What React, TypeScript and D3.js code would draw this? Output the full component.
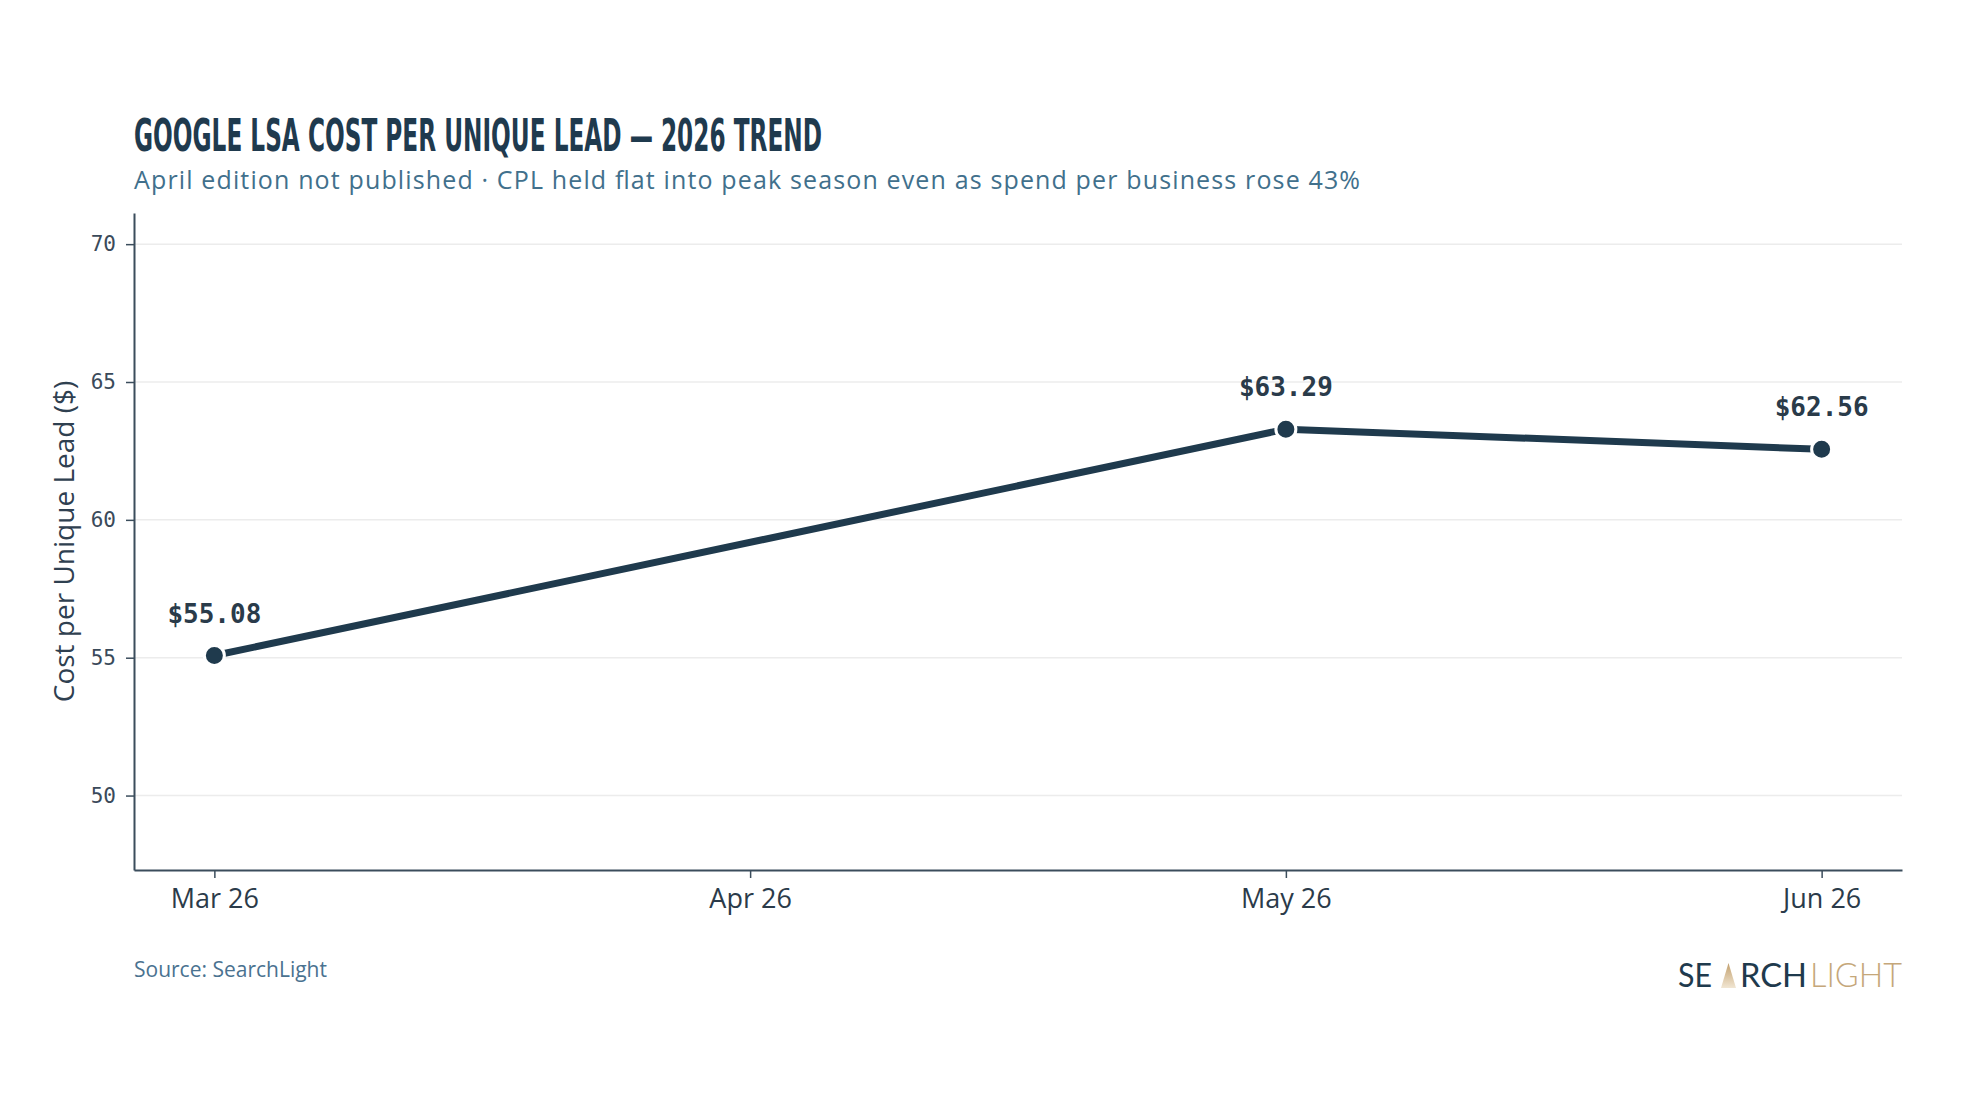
import React, { useEffect, useRef } from "react";
import * as d3 from "d3";

// chart data
const months = ["Mar 26", "Apr 26", "May 26", "Jun 26"];
const cpl: (number | null)[] = [55.08, null, 63.29, 62.56]; // April edition not published
const yTicks = [50, 55, 60, 65, 70];

const NAVY = "#1f3a4d";
const AXIS = "#3b4d5c";

const App: React.FC = () => {
  const svgRef = useRef<SVGSVGElement | null>(null);

  useEffect(() => {
    d3.select(svgRef.current).selectAll("*").remove();

    const w = 1974;
    const h = 1104;
    const m = { top: 213, right: 72, bottom: 234, left: 134 };

    const svg = d3
      .select(svgRef.current)
      .attr("width", w)
      .attr("height", h)
      .attr("viewBox", `0 0 ${w} ${h}`)
      .style("background-color", "#ffffff");

    const xScale = d3
      .scalePoint<string>()
      .domain(months)
      .range([m.left, w - m.right])
      .padding(0.15);

    const yScale = d3
      .scaleLinear()
      .domain([47.3, 71.13])
      .range([h - m.bottom, m.top]);

    // gridlines
    svg
      .append("g")
      .attr("class", "grid")
      .selectAll("line")
      .data(yTicks)
      .enter()
      .append("line")
      .attr("x1", m.left)
      .attr("x2", w - m.right)
      .attr("y1", d => yScale(d))
      .attr("y2", d => yScale(d))
      .attr("stroke", "#ececec")
      .attr("stroke-width", 1.5);

    // y axis
    const yAxis = svg
      .append("g")
      .attr("transform", `translate(${m.left}, 0)`)
      .call(d3.axisLeft(yScale).tickValues(yTicks).tickSize(8).tickSizeOuter(0).tickPadding(10));
    yAxis.select(".domain").attr("stroke", AXIS).attr("stroke-width", 2);
    yAxis.selectAll(".tick line").attr("stroke", AXIS).attr("stroke-width", 1.5);
    yAxis
      .selectAll(".tick text")
      .attr("fill", "#3a4a5a")
      .style("font-family", "'DejaVu Sans Mono', monospace")
      .style("font-size", "21px");

    // x axis
    const xAxis = svg
      .append("g")
      .attr("transform", `translate(0, ${h - m.bottom})`)
      .call(d3.axisBottom(xScale).tickSize(8).tickSizeOuter(0));
    xAxis.select(".domain").attr("stroke", AXIS).attr("stroke-width", 2);
    xAxis.selectAll(".tick line").attr("stroke", AXIS).attr("stroke-width", 1.5);
    xAxis
      .selectAll(".tick text")
      .attr("y", 38)
      .attr("dy", 0)
      .attr("fill", "#2b3b4a")
      .style("font-family", "'Open Sans', sans-serif")
      .style("font-size", "27px");

    // y axis label
    svg
      .append("text")
      .attr("text-anchor", "middle")
      .attr("transform", `translate(74, ${(m.top + h - m.bottom) / 2}) rotate(-90)`)
      .attr("fill", "#2f4050")
      .style("font-family", "'Open Sans', sans-serif")
      .style("font-size", "28px")
      .text("Cost per Unique Lead ($)");

    // line (skips the missing April value)
    const points = months
      .map((mo, i) => ({ month: mo, value: cpl[i] }))
      .filter(d => d.value != null) as { month: string; value: number }[];

    const line = d3
      .line<{ month: string; value: number }>()
      .x(d => xScale(d.month)!)
      .y(d => yScale(d.value));

    svg
      .append("path")
      .datum(points)
      .attr("d", line)
      .attr("fill", "none")
      .attr("stroke", NAVY)
      .attr("stroke-width", 7)
      .attr("stroke-linejoin", "round");

    svg
      .selectAll(".pt")
      .data(points)
      .enter()
      .append("circle")
      .attr("class", "pt")
      .attr("cx", d => xScale(d.month)!)
      .attr("cy", d => yScale(d.value))
      .attr("r", 10)
      .attr("fill", NAVY)
      .attr("stroke", "#ffffff")
      .attr("stroke-width", 3);

    svg
      .selectAll(".lbl")
      .data(points)
      .enter()
      .append("text")
      .attr("class", "lbl")
      .attr("x", d => xScale(d.month)!)
      .attr("y", d => yScale(d.value) - 33)
      .attr("text-anchor", "middle")
      .attr("fill", "#2a3b4a")
      .style("font-family", "'DejaVu Sans Mono', monospace")
      .style("font-weight", "bold")
      .style("font-size", "26px")
      .text(d => `$${d.value.toFixed(2)}`);

    // title + subtitle
    svg
      .append("text")
      .attr("x", m.left)
      .attr("y", 151)
      .attr("textLength", 688)
      .attr("lengthAdjust", "spacingAndGlyphs")
      .attr("fill", "#1f3a4e")
      .style("font-family", "'Liberation Sans Narrow', 'DejaVu Sans Condensed', sans-serif")
      .style("font-weight", "bold")
      .style("font-size", "45px")
      .text("GOOGLE LSA COST PER UNIQUE LEAD — 2026 TREND");

    svg
      .append("text")
      .attr("x", m.left)
      .attr("y", 189)
      .attr("textLength", 1226)
      .attr("lengthAdjust", "spacing")
      .attr("fill", "#41708c")
      .style("font-family", "'Open Sans', sans-serif")
      .style("font-size", "25px")
      .text("April edition not published · CPL held flat into peak season even as spend per business rose 43%");

    // source
    svg
      .append("text")
      .attr("x", m.left)
      .attr("y", 977)
      .attr("fill", "#4a7290")
      .style("font-family", "'Open Sans', sans-serif")
      .style("font-size", "21px")
      .text("Source: SearchLight");

    // logo
    const logo = svg.append("g").style("font-family", "Lato, 'Open Sans', sans-serif").style("font-size", "33px");
    const grad = svg
      .append("defs")
      .append("linearGradient")
      .attr("id", "beam")
      .attr("x1", 0)
      .attr("y1", 0)
      .attr("x2", 0)
      .attr("y2", 1);
    grad.append("stop").attr("offset", "0%").attr("stop-color", "#c29f6c");
    grad.append("stop").attr("offset", "100%").attr("stop-color", "#f1e6d3");

    logo.append("text").attr("x", 1678).attr("y", 987).attr("textLength", 34).attr("lengthAdjust", "spacingAndGlyphs")
      .attr("fill", NAVY).text("SE");
    logo.append("polygon").attr("points", "1721,988 1728.5,963 1736,988").attr("fill", "url(#beam)");
    logo.append("text").attr("x", 1740).attr("y", 987).attr("textLength", 67).attr("lengthAdjust", "spacingAndGlyphs")
      .attr("fill", NAVY).text("RCH");
    logo.append("text").attr("x", 1810).attr("y", 987).attr("textLength", 92).attr("lengthAdjust", "spacingAndGlyphs")
      .attr("fill", "#c5a77a").style("font-weight", 300).text("LIGHT");
  }, []);

  return (
    <div style={{ position: "absolute", left: 0, top: 0 }}>
      <svg ref={svgRef}></svg>
    </div>
  );
};

export default App;
